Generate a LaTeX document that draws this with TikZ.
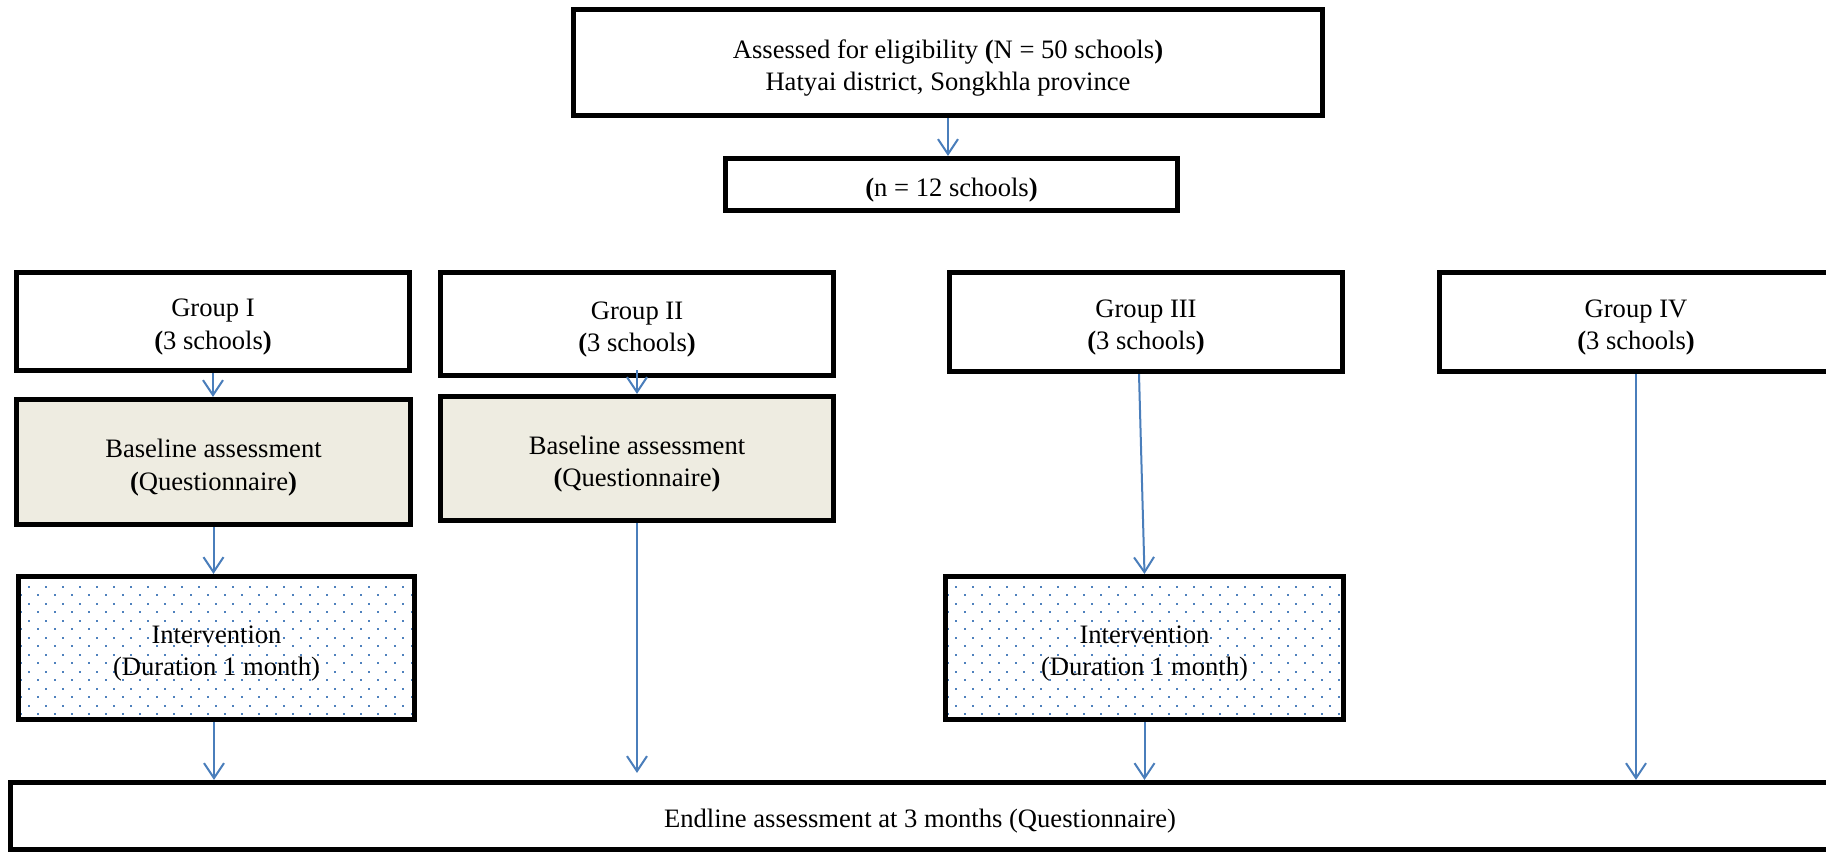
\documentclass[tikz,border=0pt]{standalone}
\usepackage{fontspec}
\setmainfont{Liberation Serif}
\usetikzlibrary{arrows.meta,calc}
\definecolor{arrblue}{HTML}{4A7EBB}
\definecolor{dotblue}{HTML}{4F81BD}
\definecolor{tanfill}{HTML}{EEECE1}
\newcommand\dotpattern[4]{%
  \begin{scope}
    \clip (#1,#2) rectangle (#3,#4);
    \foreach \r in {0,...,18}{%
      \pgfmathsetmacro\yy{#2+\r*8.5}%
      \pgfmathsetmacro\off{mod(\r,2)*8.5}%
      \foreach \c in {0,...,24}{%
        \fill[dotblue] ({#1+1.5+\off+\c*17},\yy) rectangle +(2.2,2.2);
      }%
    }%
  \end{scope}}
\begin{document}
\begin{tikzpicture}[x=0.5pt,y=-0.5pt,
  box/.style={draw=black, line width=2.3pt, rectangle, inner sep=0pt},
  base/.style={box, fill=tanfill},
  txt/.style={align=center, inner sep=0pt,
    font=\fontsize{13.3}{16.4}\selectfont},
  arr/.style={draw=arrblue, line width=1pt,
    -{Straight Barb[length=7.5pt,width=10pt,line width=1pt]}}]
\useasboundingbox (0,0) rectangle (1826,852);
\clip (0,0) rectangle (1826,852);
\fill[white] (0,0) rectangle (1826,852);

% dotted fills of the intervention boxes
\dotpattern{18}{577}{415}{720}
\dotpattern{945}{577}{1344}{720}

\node[box, minimum width=374.75pt, minimum height=53.25pt] (top) at (948,62.5) {};
\node[box, minimum width=226.25pt, minimum height=26.25pt] (n12) at (951.5,184.5) {};
\node[box, minimum width=196.75pt, minimum height=49.25pt] (g1) at (213,321.5) {};
\node[box, minimum width=196.75pt, minimum height=51.75pt] (g2) at (637,324) {};
\node[box, minimum width=196.75pt, minimum height=49.75pt] (g3) at (1146,322) {};
\node[box, minimum width=196.75pt, minimum height=49.75pt] (g4) at (1636,322) {};
\node[base, minimum width=197.25pt, minimum height=62.75pt] (b1) at (213.5,462) {};
\node[base, minimum width=196.75pt, minimum height=62.25pt] (b2) at (637,458.5) {};
\node[box, minimum width=198.25pt, minimum height=71.75pt] (i1) at (216.5,648) {};
\node[box, minimum width=199.25pt, minimum height=71.75pt] (i3) at (1144.5,648) {};
\node[box, minimum width=909.75pt, minimum height=33.75pt] (end) at (920,816) {};

% texts
\node[txt] (topt) at ($(top.center)+(0,5.5)$)
  {Assessed for eligibility \textbf{(}N = 50 schools\textbf{)}\\Hatyai district, Songkhla province};
\node[txt] (n12t) at ($(n12.center)+(0,5.5)$) {\textbf{(}n = 12 schools\textbf{)}};
\node[txt] (g1t) at ($(g1.center)+(0,5.5)$) {Group I\\\textbf{(}3 schools\textbf{)}};
\node[txt] (g2t) at ($(g2.center)+(0,5.5)$) {Group II\\\textbf{(}3 schools\textbf{)}};
\node[txt] (g3t) at ($(g3.center)+(0,5.5)$) {Group III\\\textbf{(}3 schools\textbf{)}};
\node[txt] (g4t) at ($(g4.center)+(0,5.5)$) {Group IV\\\textbf{(}3 schools\textbf{)}};
\node[txt] (b1t) at ($(b1.center)+(0,5.5)$) {Baseline assessment\\\textbf{(}Questionnaire\textbf{)}};
\node[txt] (b2t) at ($(b2.center)+(0,5.5)$) {Baseline assessment\\\textbf{(}Questionnaire\textbf{)}};
\node[txt] (i1t) at ($(i1.center)+(0,5.5)$) {Intervention\\(Duration 1 month)};
\node[txt] (i3t) at ($(i3.center)+(0,5.5)$) {Intervention\\(Duration 1 month)};
\node[txt] (endt) at ($(end.center)+(0,5.5)$) {Endline assessment at 3 months (Questionnaire)};

% connectors
\draw[arr] (top.south) -- (top.south |- n12.north);
\draw[arr] (g1.south) -- (g1.south |- b1.north);
\draw[arr] (b1.south) -- (b1.south |- i1.north);
\draw[arr] ($(i1.south)+(-2.5,0)$) -- ($(i1.south |- end.north)+(-2.5,0)$);
\draw[arr] ($(g2.south)+(0,-8)$) -- (b2.north);
\draw[arr] (b2.south) -- ($(b2.south |- end.north)+(0,-7)$);
\draw[arr] ($(g3.south)+(-7,0)$) -- (i3.north);
\draw[arr] (i3.south) -- (i3.south |- end.north);
\draw[arr] (g4.south) -- (g4.south |- end.north);
\end{tikzpicture}
\end{document}
